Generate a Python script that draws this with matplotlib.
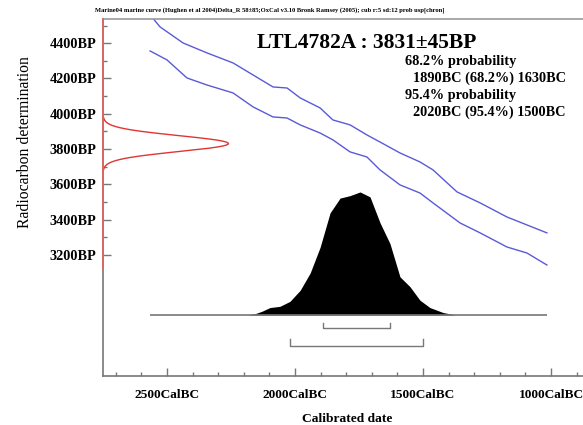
import numpy as np
from matplotlib import pyplot as plt
from matplotlib.ticker import FixedLocator, FixedFormatter

# radiocarbon measurement
lab_code = 'LTL4782A'
c14_age = 3831
c14_err = 45

# calibration curve band (calBC, BP)
upper_years = [2566, 2527, 2437, 2344, 2242, 2164, 2086, 2031, 1980, 1902, 1852,
               1785, 1719, 1668, 1590, 1512, 1461, 1367, 1277, 1172, 1094, 1016]
upper_bp = [4560, 4492, 4401, 4345, 4288, 4220, 4152, 4146, 4090, 4033, 3965,
            3937, 3880, 3840, 3778, 3727, 3682, 3557, 3495, 3415, 3370, 3325]
lower_years = [2566, 2500, 2422, 2344, 2242, 2164, 2086, 2031, 1980, 1902, 1852,
               1785, 1719, 1668, 1590, 1512, 1461, 1355, 1277, 1172, 1094, 1016]
lower_bp = [4356, 4305, 4203, 4163, 4118, 4039, 3982, 3976, 3937, 3891, 3852,
            3784, 3755, 3682, 3597, 3551, 3495, 3381, 3325, 3245, 3211, 3143]

# calibrated probability distribution (relative)
prob_years = [2184, 2156, 2129, 2098, 2059, 2020, 1980, 1941, 1902, 1863, 1824,
              1785, 1746, 1707, 1668, 1629, 1590, 1551, 1512, 1473, 1422, 1375]
prob_vals = [0.0, 0.01, 0.03, 0.06, 0.07, 0.11, 0.2, 0.34, 0.55, 0.83, 0.95,
             0.97, 1.0, 0.96, 0.75, 0.58, 0.31, 0.23, 0.12, 0.06, 0.02, 0.0]

range_68 = (1890, 1630)
range_95 = (2020, 1500)
plot_range = (2566, 1016)

x_major = [2500, 2000, 1500, 1000]
x_labels = ['2500CalBC', '2000CalBC', '1500CalBC', '1000CalBC']
y_major = [3200, 3400, 3600, 3800, 4000, 4200, 4400]
y_labels = ['%dBP' % v for v in y_major]

title = ('Marine04 marine curve (Hughen et al 2004)Delta_R 58\u00b185;'
         'OxCal v3.10 Bronk Ramsey (2005); cub r:5 sd:12 prob usp[chron]')

W, H = 583, 425
fig = plt.figure(figsize=(W / 100, H / 100), dpi=100)
ax = fig.add_axes([103 / W, 1 - 376 / H, 480 / W, 357 / H])
serif = 'Liberation Serif'
grey = '#777777'

ax.set_xlim(2750, 875)
ax.set_ylim(2514, 4537)

# calibration curve
ax.plot(upper_years, upper_bp, color='#5a5ad8', lw=1.0)
ax.plot(lower_years, lower_bp, color='#5a5ad8', lw=1.0)

# radiocarbon gaussian on the y axis
bp = np.linspace(c14_age - 3.3 * c14_err, c14_age + 3.3 * c14_err, 200)
g = np.exp(-0.5 * ((bp - c14_age) / c14_err) ** 2)
ax.plot(2750 - 490 * g, bp, color='#e03535', lw=1.0, clip_on=False, zorder=4)
ax.plot([2750, 2750], [3126, 4537], color='#e86060', lw=1.2, clip_on=False, zorder=4)

# calibrated distribution
base = 2860
ax.hlines(base, plot_range[0], plot_range[1], color=grey, lw=1.2)
ax.fill_between(prob_years, base, base + 697 * np.array(prob_vals), color='black', lw=0)

# range brackets
for (a, b), yb, yt in [(range_68, 2786, 2815), (range_95, 2684, 2724)]:
    ax.plot([a, a, b, b], [yt, yb, yb, yt], color=grey, lw=1.0)

ax.spines['right'].set_visible(False)
ax.spines['top'].set_color('#999999')
ax.spines['left'].set_color(grey)
ax.spines['bottom'].set_color(grey)
for s in ['top', 'left', 'bottom']:
    ax.spines[s].set_linewidth(1.2)

ax.xaxis.set_major_locator(FixedLocator(x_major))
ax.xaxis.set_major_formatter(FixedFormatter(x_labels))
ax.xaxis.set_minor_locator(FixedLocator(range(900, 2800, 100)))
ax.yaxis.set_major_locator(FixedLocator(y_major))
ax.yaxis.set_major_formatter(FixedFormatter(y_labels))
ax.yaxis.set_minor_locator(FixedLocator(range(3300, 4600, 200)))
ax.tick_params(which='both', direction='in', color=grey, width=1.0)
ax.tick_params(which='major', length=6)
ax.tick_params(which='minor', length=3)
ax.tick_params(axis='x', pad=9)
ax.tick_params(axis='y', pad=5)
for lab in ax.get_xticklabels():
    lab.set_fontfamily(serif)
    lab.set_fontweight('bold')
    lab.set_fontsize(9.6)
for lab in ax.get_yticklabels():
    lab.set_fontfamily(serif)
    lab.set_fontweight('bold')
    lab.set_fontsize(10.3)

fig.text(270 / W, 1 - 10 / H, title, ha='center', va='center',
         family=serif, fontweight='bold', fontsize=4.7)
fig.text(367 / W, 1 - 43 / H, '%s : %d\u00b1%dBP' % (lab_code, c14_age, c14_err),
         ha='center', va='center', family=serif, fontweight='bold', fontsize=15.5)
info = [(405, 62, '68.2% probability'),
        (413, 78, '%dBC (68.2%%) %dBC' % range_68),
        (405, 95, '95.4% probability'),
        (413, 112, '%dBC (95.4%%) %dBC' % range_95)]
for px, py, txt in info:
    fig.text(px / W, 1 - py / H, txt, ha='left', va='center',
             family=serif, fontweight='bold', fontsize=10.3)

fig.text(347 / W, 1 - 419 / H, 'Calibrated date', ha='center', va='center',
         family=serif, fontweight='bold', fontsize=9.7)
fig.text(25 / W, 1 - 142 / H, 'Radiocarbon determination', ha='center', va='center',
         rotation=90, family=serif, fontsize=11.3)

plt.savefig('out.png', dpi=100)
